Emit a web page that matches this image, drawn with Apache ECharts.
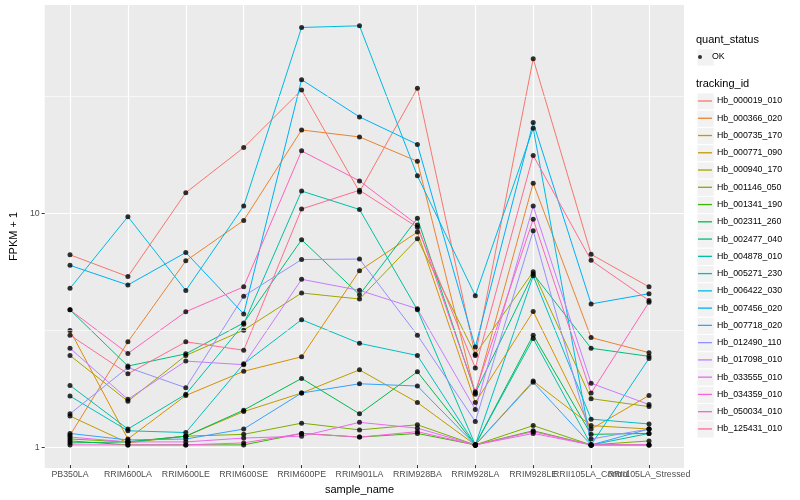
<!DOCTYPE html>
<html>
<head>
<meta charset="utf-8">
<script src="https://cdn.jsdelivr.net/npm/echarts@6/dist/echarts.min.js"></script>
<style>
html,body{margin:0;padding:0;background:#ffffff;}
#chart{width:800px;height:500px;}
</style>
</head>
<body>
<div id="chart"></div>
<script>
// ---------------- data ----------------
const categories = ['PB350LA','RRIM600LA','RRIM600LE','RRIM600SE','RRIM600PE','RRIM901LA','RRIM928BA','RRIM928LA','RRIM928LE','RRII105LA_Control','RRII105LA_Stressed'];

const trackingIds = ['Hb_000019_010','Hb_000366_020','Hb_000735_170','Hb_000771_090','Hb_000940_170','Hb_001146_050','Hb_001341_190','Hb_002311_260','Hb_002477_040','Hb_004878_010','Hb_005271_230','Hb_006422_030','Hb_007456_020','Hb_007718_020','Hb_012490_110','Hb_017098_010','Hb_033555_010','Hb_034359_010','Hb_050034_010','Hb_125431_010'];

const colors = ['#F8766D','#EA8331','#D89000','#C09B00','#A3A500','#7CAE00','#39B600','#00BB4E','#00BF7D','#00C1A3','#00BFC4','#00BAE0','#00B0F6','#35A2FF','#9590FF','#C77CFF','#E76BF3','#FA62DB','#FF62BC','#FF6C91'];

// FPKM + 1 per sample (order of categories)
const hb_000019_010 = [6.55, 5.28, 12.1, 18.9, 33.4, 12.2, 34.0, 2.42, 45.5, 6.58, 4.77];
const hb_000366_020 = [1.10, 2.77, 6.17, 9.2, 22.5, 21.0, 16.5, 1.65, 13.3, 2.89, 2.49];
const hb_000735_170 = [3.10, 1.06, 1.63, 2.07, 2.39, 5.6, 8.2, 1.52, 3.74, 1.17, 1.63];
const hb_000771_090 = [1.33, 1.02, 1.09, 1.39, 1.67, 2.10, 1.52, 1.00, 1.88, 1.21, 1.17];
const hb_000940_170 = [2.42, 1.54, 2.42, 3.11, 4.49, 4.23, 7.67, 2.45, 5.54, 1.58, 1.46];
const hb_001146_050 = [1.06, 1.03, 1.09, 1.11, 1.24, 1.16, 1.22, 1.00, 1.21, 1.00, 1.04];
const hb_001341_190 = [1.04, 1.00, 1.00, 1.00, 1.12, 1.08, 1.12, 1.00, 1.15, 1.00, 1.00];
const hb_002311_260 = [1.02, 1.03, 1.09, 1.41, 1.93, 1.36, 2.06, 1.00, 2.96, 1.11, 1.12];
const hb_002477_040 = [3.80, 2.18, 2.46, 3.34, 7.6, 4.41, 9.4, 1.67, 5.43, 2.60, 2.40];
const hb_004878_010 = [1.80, 1.17, 1.65, 3.30, 12.3, 10.25, 3.80, 1.00, 2.86, 1.00, 1.12];
const hb_005271_230 = [1.62, 1.15, 1.13, 2.23, 3.45, 2.73, 2.42, 1.00, 5.32, 1.29, 1.23];
const hb_006422_030 = [4.70, 9.55, 4.60, 10.6, 62.0, 63.0, 14.3, 4.37, 22.9, 1.00, 2.35];
const hb_007456_020 = [5.90, 4.86, 6.70, 3.65, 37.0, 25.6, 19.5, 2.63, 24.2, 4.03, 4.46];
const hb_007718_020 = [1.12, 1.05, 1.06, 1.17, 1.67, 1.83, 1.79, 1.00, 1.86, 1.00, 1.17];
const hb_012490_110 = [1.36, 2.15, 1.76, 4.35, 6.25, 6.28, 2.96, 1.26, 8.3, 1.06, 1.17];
const hb_017098_010 = [2.60, 1.57, 2.29, 2.21, 5.14, 4.61, 3.84, 1.42, 10.6, 1.84, 1.49];
const hb_033555_010 = [1.08, 1.03, 1.03, 1.07, 1.09, 1.25, 1.18, 1.00, 1.12, 1.00, 1.00];
const hb_034359_010 = [1.00, 1.00, 1.00, 1.02, 1.12, 1.08, 1.14, 1.00, 1.14, 1.00, 1.00];
const hb_050034_010 = [3.80, 2.47, 3.73, 4.77, 18.3, 13.6, 8.8, 1.69, 9.3, 1.67, 4.10];
const hb_125431_010 = [2.96, 2.02, 2.77, 2.55, 10.3, 12.4, 8.6, 2.14, 17.5, 6.20, 4.17];

const seriesValues = [hb_000019_010, hb_000366_020, hb_000735_170, hb_000771_090, hb_000940_170,
  hb_001146_050, hb_001341_190, hb_002311_260, hb_002477_040, hb_004878_010,
  hb_005271_230, hb_006422_030, hb_007456_020, hb_007718_020, hb_012490_110,
  hb_017098_010, hb_033555_010, hb_034359_010, hb_050034_010, hb_125431_010];

const quantStatus = ['OK'];
const yTickValues = [1, 10];
const yTickLabels = ['1', '10'];

// ---------------- chart ----------------
const FONT = '"Liberation Sans", Arial, Helvetica, sans-serif';
const yMin = 0.819, yMax = 77.4;
const panel = {left: 35, right: 684, top: 5, bottom: 468};
const catLeft = 70, catRight = 649;
// minor grid lines halfway between decades (log scale)
const minorBreaks = [Math.sqrt(10), Math.sqrt(1000)];

const lineSeries = seriesValues.map((vals, i) => ({
  name: trackingIds[i],
  type: 'line',
  xAxisIndex: 1, yAxisIndex: 1,
  data: vals,
  color: colors[i],
  symbol: 'none',
  lineStyle: {width: 1, color: colors[i]},
  z: 2,
  animation: false
}));

const pointData = [];
seriesValues.forEach(vals => vals.forEach((v, j) => pointData.push([categories[j], v])));

const pointSeries = {
  name: quantStatus[0],
  type: 'scatter',
  xAxisIndex: 1, yAxisIndex: 1,
  data: pointData,
  symbol: 'circle',
  symbolSize: 5,
  itemStyle: {color: '#000000'},
  z: 3,
  animation: false
};

// invisible carrier series in the full panel grid for the minor grid lines
const minorGridSeries = {
  name: '__minor',
  type: 'line',
  xAxisIndex: 0, yAxisIndex: 0,
  data: [],
  symbol: 'none',
  silent: true,
  z: 1,
  markLine: {
    silent: true, symbol: ['none', 'none'], label: {show: false}, animation: false,
    lineStyle: {color: '#ffffff', width: 0.6, type: 'solid'},
    emphasis: {disabled: true},
    data: minorBreaks.map(v => ({yAxis: v}))
  }
};

const keyStep = 17.26;
const firstKey = 101;
const okKey = 57;
const keyGraphics = [];
for (let i = 0; i < trackingIds.length; i++) {
  keyGraphics.push({type: 'rect', left: 696.4, top: firstKey + keyStep * i - keyStep / 2,
    shape: {width: keyStep, height: keyStep}, style: {fill: '#F2F2F2', stroke: '#ffffff', lineWidth: 1}, z: 0});
}
keyGraphics.push({type: 'rect', left: 696.4, top: okKey - keyStep / 2,
  shape: {width: keyStep, height: keyStep}, style: {fill: '#F2F2F2', stroke: '#ffffff', lineWidth: 1}, z: 0});
keyGraphics.push({type: 'text', left: 696, top: 34.5, style: {text: 'quant_status', font: '11px ' + FONT, fill: '#000'}, z: 5});
keyGraphics.push({type: 'text', left: 696, top: 78, style: {text: 'tracking_id', font: '11px ' + FONT, fill: '#000'}, z: 5});

const option = {
  animation: false,
  backgroundColor: '#ffffff',
  textStyle: {fontFamily: FONT},
  grid: [
    {left: panel.left, top: panel.top, width: panel.right - panel.left, height: panel.bottom - panel.top,
     show: true, backgroundColor: '#EBEBEB', borderWidth: 0, containLabel: false},
    {left: catLeft, top: panel.top, width: catRight - catLeft, height: panel.bottom - panel.top,
     show: false, containLabel: false}
  ],
  xAxis: [
    {type: 'value', gridIndex: 0, min: 0, max: 1, show: false},
    {type: 'category', gridIndex: 1, data: categories, boundaryGap: false,
     axisLine: {show: false},
     axisTick: {show: true, length: 3, lineStyle: {color: '#333333', width: 1}},
     axisLabel: {interval: 0, margin: 5, fontSize: 8.8, color: '#4D4D4D', fontFamily: FONT},
     splitLine: {show: true, lineStyle: {color: '#ffffff', width: 1.2}},
     name: 'sample_name', nameLocation: 'middle', nameGap: 16,
     nameTextStyle: {fontSize: 11, color: '#000', fontFamily: FONT}}
  ],
  yAxis: [
    {type: 'log', logBase: 10, gridIndex: 0, min: yMin, max: yMax,
     axisLine: {show: false},
     axisTick: {show: true, length: 3, lineStyle: {color: '#333333', width: 1}, customValues: yTickValues},
     axisLabel: {margin: 5, fontSize: 8.8, color: '#4D4D4D', fontFamily: FONT, customValues: yTickValues,
       formatter: v => { const k = yTickValues.indexOf(Math.round(v * 1000) / 1000); return k >= 0 ? yTickLabels[k] : ''; }},
     splitLine: {show: true, lineStyle: {color: '#ffffff', width: 1.2}},
     name: 'FPKM + 1', nameLocation: 'middle', nameGap: 18, nameRotate: 90,
     nameTextStyle: {fontSize: 11, color: '#000', fontFamily: FONT}},
    {type: 'log', logBase: 10, gridIndex: 1, min: yMin, max: yMax, show: false}
  ],
  legend: [
    {data: quantStatus, orient: 'vertical', left: 698, top: okKey - keyStep / 2, icon: 'circle', padding: 0,
     itemWidth: 14, itemHeight: 4, itemGap: 0, selectedMode: false,
     textStyle: {fontSize: 8.8, color: '#000', fontFamily: FONT, lineHeight: keyStep}},
    {data: trackingIds, orient: 'vertical', left: 698, top: firstKey - keyStep / 2, icon: 'rect', padding: 0,
     itemWidth: 14, itemHeight: 1.3, itemGap: 0, selectedMode: false, symbolKeepAspect: false,
     textStyle: {fontSize: 8.8, color: '#000', fontFamily: FONT, lineHeight: keyStep}}
  ],
  graphic: keyGraphics,
  series: [minorGridSeries].concat(lineSeries, [pointSeries])
};

const chart = echarts.init(document.getElementById('chart'), null, {renderer: 'canvas'});
chart.setOption(option);
</script>
</body>
</html>
